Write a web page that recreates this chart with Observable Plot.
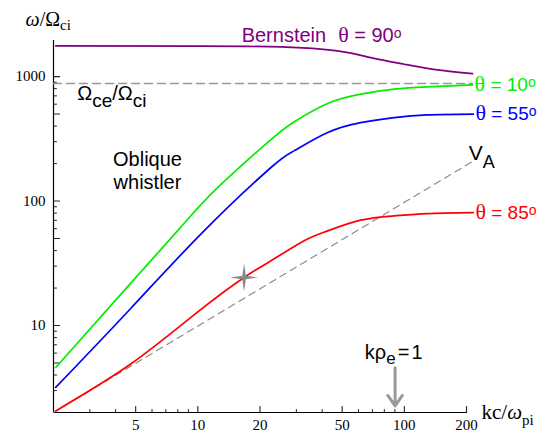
<!DOCTYPE html>
<html><head><meta charset="utf-8">
<script src="https://cdn.jsdelivr.net/npm/d3@7"></script>
<script src="https://cdn.jsdelivr.net/npm/@observablehq/plot@0.6"></script>
<style>html,body{margin:0;padding:0;background:#fff;} #chart svg{display:block}</style>
</head><body><div id="chart"></div>
<script>
// ---- data (kc/ωpi , ω/Ωci) ----
const k10 = [2.05, 4.08, 7.97, 12.46, 22.6, 29.2, 42.5, 61.5, 89.3, 129, 214];
const w10 = [4.6, 16.6, 57.6, 128, 312, 432, 607, 722, 792, 826, 857];
const k55 = [2.05, 4.73, 10.72, 22.6, 29.2, 42.5, 61.5, 89.3, 129, 216];
const w55 = [3.18, 13.7, 57.6, 186, 253, 355, 427, 468, 492, 499];
const k85 = [2.05, 4.73, 9.96, 16.75, 22.6, 32.7, 42.5, 61.5, 89.3, 129, 216];
const w85 = [2.06, 4.9, 12.8, 24.3, 33.1, 47.9, 57.6, 70.2, 76, 79.3, 80.8];
const k90 = [2.05, 10, 25.2, 47.5, 68.8, 99.8, 144.8, 214];
const w90 = [1763, 1755, 1731, 1608, 1420, 1257, 1131, 1057];
const ceRatio = 880;                 // Ωce/Ωci level
const alfvenK = [2, 214];
const alfvenW = [2, 208];
const starK = [16.75];
const starW = [24.3];
const rhoK = 90.2;                   // kρe = 1
const thetas = ["10", "55", "85"];
const xTicks = [5, 10, 20, 50, 100, 200];
const xMinor = [3, 4, 6, 7, 8, 9, 30, 40, 60, 70, 80, 90];
const yTicks = [5, 10, 50, 100, 500, 1000];
const yMinor = [3, 4, 6, 7, 8, 9, 20, 30, 40, 60, 70, 80, 90, 200, 300, 400, 600, 700, 800, 900];

const colors = {"10": "#00ee00", "55": "#0000ff", "85": "#ff0000", "90": "#800080"};
const series = [
  {theta: "10", k: k10, w: w10},
  {theta: "55", k: k55, w: w55},
  {theta: "85", k: k85, w: w85}
];
const toRows = (ks, ws) => ks.map((k, i) => ({k, w: ws[i]}));

// 4-pointed star symbol
const star4 = {
  draw(ctx, size) {
    const R = Math.sqrt(size / Math.PI), r = R * 0.18;
    for (let i = 0; i < 8; i++) {
      const a = i * Math.PI / 4 - Math.PI / 2, rr = i % 2 ? r : R;
      const x = rr * Math.cos(a), y = rr * Math.sin(a);
      i ? ctx.lineTo(x, y) : ctx.moveTo(x, y);
    }
    ctx.closePath();
  }
};
// plain tick shape for vectors (a straight segment)
const tickShape = {draw(ctx, l) { ctx.moveTo(0, 0); ctx.lineTo(0, -l); }};

const sans = "'Liberation Sans', Arial, sans-serif";
const serif = "'Liberation Serif', 'Times New Roman', serif";

const annotations = [
  {key: "Bernstein θ = 90o", k: 16.3, w: 1890, color: colors["90"]},
  {key: "Ωce/Ωci", k: 2.606, w: 643, color: "black"},
  {key: "VA", k: 205.2, w: 211.8, color: "black"},
  {key: "kρe=1", k: 64.4, w: 5.4, color: "black"}
];

const plot = Plot.plot({
  width: 547, height: 432,
  marginLeft: 53, marginRight: 81, marginTop: 40, marginBottom: 20,
  style: {fontFamily: serif, fontSize: "15px", color: "black", background: "white"},
  x: {type: "log", domain: [2, 200]},
  y: {type: "log", domain: [2, 1950]},
  color: {type: "identity"},
  marks: [
    // axes: labels
    Plot.axisX({ticks: xTicks, tickSize: 0, tickPadding: 7, tickFormat: d => String(d), label: null, fontFamily: serif, fontSize: 15}),
    Plot.axisY({ticks: yTicks, tickSize: 0, tickPadding: 8, tickFormat: d => String(d), label: null, fontFamily: serif, fontSize: 15}),
    // axes: inward ticks
    Plot.vector(xTicks, {x: d => d, frameAnchor: "bottom", length: 6, rotate: 0, anchor: "start", shape: tickShape, stroke: "#222", strokeWidth: 1.1}),
    Plot.vector(xMinor, {x: d => d, frameAnchor: "bottom", length: 3, rotate: 0, anchor: "start", shape: tickShape, stroke: "#222", strokeWidth: 1}),
    Plot.vector(yTicks, {y: d => d, frameAnchor: "left", length: 6, rotate: 90, anchor: "start", shape: tickShape, stroke: "#222", strokeWidth: 1.1}),
    Plot.vector(yMinor, {y: d => d, frameAnchor: "left", length: 3, rotate: 90, anchor: "start", shape: tickShape, stroke: "#222", strokeWidth: 1}),
    Plot.ruleX([2], {stroke: "black", strokeWidth: 1.2}),
    Plot.ruleY([2], {stroke: "black", strokeWidth: 1.2}),
    // reference lines
    Plot.line(toRows([2, 214], [ceRatio, ceRatio]), {x: "k", y: "w", stroke: "#999", strokeWidth: 1.6, strokeDasharray: "8,5"}),
    Plot.line(toRows(alfvenK, alfvenW), {x: "k", y: "w", stroke: "#888", strokeWidth: 1.1, strokeDasharray: "7,5"}),
    // dispersion curves
    Plot.line(toRows(k90, w90), {x: "k", y: "w", stroke: colors["90"], strokeWidth: 1.7, curve: "natural"}),
    ...series.map(s => Plot.line(toRows(s.k, s.w), {x: "k", y: "w", stroke: colors[s.theta], strokeWidth: 1.7, curve: "natural"})),
    // curve labels
    Plot.text(series, {x: s => s.k[s.k.length - 1], y: s => s.w[s.w.length - 1], text: s => `θ = ${s.theta}o`,
      fill: s => colors[s.theta], dx: 2, textAnchor: "start", fontFamily: sans, fontSize: 19}),
    // star & arrow
    Plot.dot(toRows(starK, starW), {x: "k", y: "w", r: 14, symbol: star4, fill: "#888", stroke: "none"}),
    Plot.arrow([{k: rhoK}], {x1: "k", x2: "k", y1: () => 4.58, y2: () => 2.26, stroke: "#999", strokeWidth: 3, headLength: 12, headAngle: 70}),
    // annotations
    Plot.text(annotations, {x: "k", y: "w", text: "key", fill: "color", textAnchor: "start", lineAnchor: "bottom", fontFamily: sans, fontSize: 20}),
    Plot.text(["Oblique\nwhistler"], {x: () => 5.705, y: () => 123.9, text: d => d, textAnchor: "middle", lineAnchor: "bottom", lineHeight: 1.15, fontFamily: sans, fontSize: 20}),
    // axis labels
    Plot.text(["ω/Ωci"], {frameAnchor: "top-left", text: d => d, dx: -28, dy: -15, textAnchor: "start", lineAnchor: "bottom", fontFamily: serif, fontSize: 20}),
    Plot.text(["kc/ωpi"], {frameAnchor: "bottom-right", text: d => d, dx: 15, dy: 6, textAnchor: "start", lineAnchor: "bottom", fontFamily: serif, fontSize: 21})
  ]
});

// ---- rich text (sub/superscripts) ----
const thetaSpec = t => [{t: "θ", family: serif, size: 22}, {t: ` = ${t}`}, {t: "o", sup: 4, size: 14}];
const rich = new Map([
  ["ω/Ωci", [{t: "ω", italic: true}, {t: "/Ω"}, {t: "ci", sub: 4, size: 15}]],
  ["kc/ωpi", [{t: "kc/"}, {t: "ω", italic: true}, {t: "pi", sub: 6, size: 15}]],
  ["Ωce/Ωci", [{t: "Ω"}, {t: "ce", sub: 7, size: 19}, {t: "/Ω"}, {t: "ci", sub: 7, size: 19}]],
  ["VA", [{t: "V", size: 21}, {t: "A", sub: 8, size: 18}]],
  ["kρe=1", [{t: "kρ"}, {t: "e", sub: 5, size: 17}, {t: "=", dx: 2}, {t: "1", dx: 2}]],
  ["Bernstein θ = 90o", [{t: "Bernstein"}, {t: "θ", family: serif, size: 22, dx: 12}, {t: " = 90"}, {t: "o", sup: 4, size: 14}]],
  ...thetas.map(t => [`θ = ${t}o`, thetaSpec(t)])
]);
d3.select(plot).selectAll("text").each(function () {
  const spec = rich.get(this.textContent);
  if (!spec) return;
  const el = d3.select(this);
  el.text(null);
  let shift = 0;
  for (const p of spec) {
    const ts = el.append("tspan").text(p.t);
    const target = p.sub ? p.sub : p.sup ? -p.sup : 0;
    if (target !== shift) ts.attr("dy", target - shift);
    shift = target;
    if (p.size) ts.attr("font-size", p.size);
    if (p.family) ts.attr("font-family", p.family);
    if (p.italic) ts.attr("font-style", "italic");
    if (p.dx) ts.attr("dx", p.dx);
  }
});

document.getElementById("chart").append(plot);
</script>
</body></html>
